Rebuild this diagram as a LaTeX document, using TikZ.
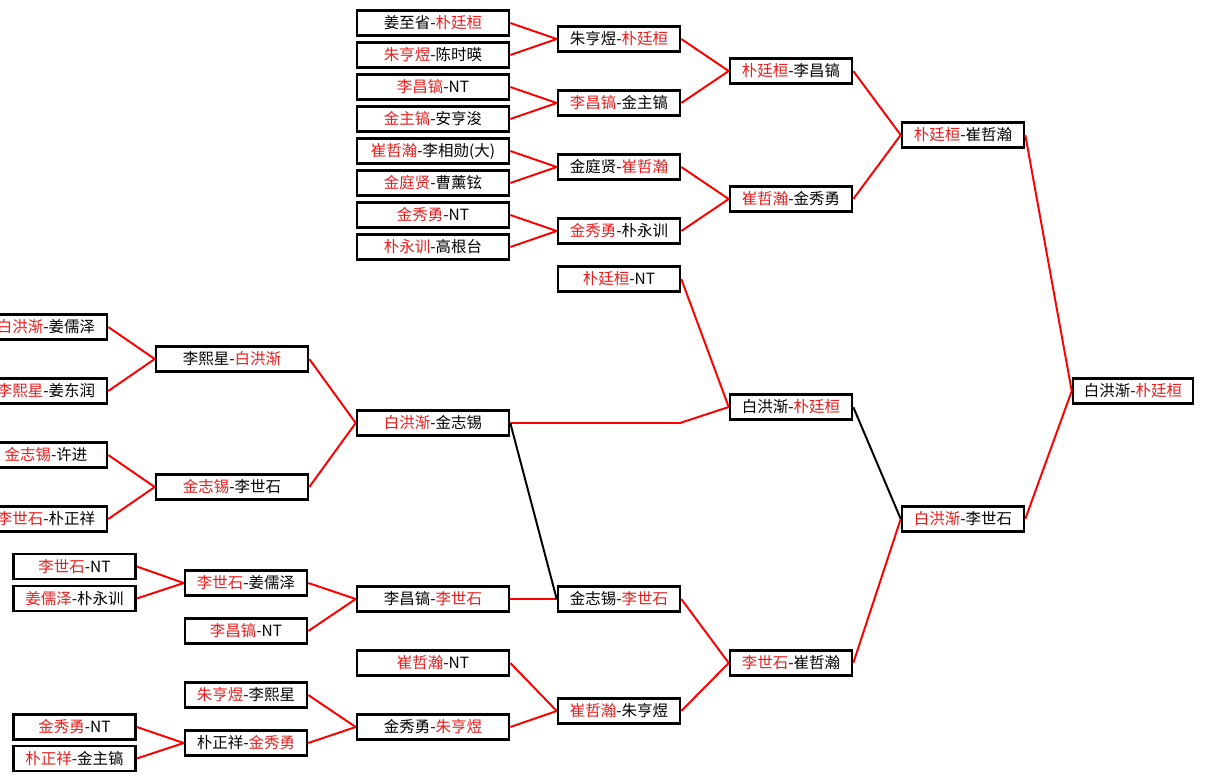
\documentclass[tikz,border=0pt]{standalone}
\usepackage{fontspec}
\setmainfont{Noto Sans CJK SC}
\definecolor{winred}{RGB}{232,30,30}
\newcommand\rn[1]{\textcolor{winred}{#1}}

\begin{document}
\begin{tikzpicture}
[x=0.025cm,y=-0.025cm,
mm/.style={draw=black,line width=1.8pt,fill=white,minimum width=3.05cm,minimum height=0.62cm,inner sep=0pt,font=\fontsize{11}{12}\selectfont},
ww/.style={mm,minimum width=3.8cm},
win/.style={draw={rgb,255:red,255;green,0;blue,0},line width=1.4pt},
lose/.style={draw=black,line width=1.4pt}]
\useasboundingbox (0,0) rectangle (1205,781);
\clip (0,0) rectangle (1205,781);
%%%%% UPPER ROUND 1
\foreach \i/\t in {1/{姜至省-\rn{朴廷桓}},2/{\rn{朱亨煜}-陈时暎},3/{\rn{李昌镐}-NT},4/{\rn{金主镐}-安亨浚},
	5/{\rn{崔哲瀚}-李相勋(大)},6/{\rn{金庭贤}-曹薰铉},7/{\rn{金秀勇}-NT},8/{\rn{朴永训}-高根台}}
{
	\node[ww] (upa\i) at (433,{-9+32*\i}) {\t};
};
%%%%% UPPER ROUND 2
\foreach \i/\t in {1/{朱亨煜-\rn{朴廷桓}},2/{\rn{李昌镐}-金主镐},3/{金庭贤-\rn{崔哲瀚}},4/{\rn{金秀勇}-朴永训}}
{
	\node[mm] (upb\i) at (619,{-25+64*\i}) {\t};
	\pgfmathtruncatemacro\ia{2*\i-1}
	\pgfmathtruncatemacro\ib{2*\i}
	\draw[win] (upa\ia.east) -- (upb\i.west);
	\draw[win] (upa\ib.east) -- (upb\i.west);
};
%%%%% UPPER ROUND 3
\foreach \i/\t in {1/{\rn{朴廷桓}-李昌镐},2/{\rn{崔哲瀚}-金秀勇}}
{
	\node[mm] (upc\i) at (791,{-57+128*\i}) {\t};
	\pgfmathtruncatemacro\ia{2*\i-1}
	\pgfmathtruncatemacro\ib{2*\i}
	\draw[win] (upb\ia.east) -- (upc\i.west);
	\draw[win] (upb\ib.east) -- (upc\i.west);
};
\node[mm] (upd1) at (963,135) {\rn{朴廷桓}-崔哲瀚};
\draw[win] (upc1.east) -- (upd1.west);
\draw[win] (upc2.east) -- (upd1.west);
%%%%% MIDDLE
\foreach \i/\t in {1/{\rn{白洪渐}-姜儒泽},2/{\rn{李熙星}-姜东润},3/{\rn{金志锡}-许进},4/{\rn{李世石}-朴正祥}}
{
	\node[mm] (mida\i) at (46,{263+64*\i}) {\t};
};
\foreach \i/\t in {1/{李熙星-\rn{白洪渐}},2/{\rn{金志锡}-李世石}}
{
	\node[ww] (midb\i) at (232,{231+128*\i}) {\t};
	\pgfmathtruncatemacro\ia{2*\i-1}
	\pgfmathtruncatemacro\ib{2*\i}
	\draw[win] (mida\ia.east) -- (midb\i.west);
	\draw[win] (mida\ib.east) -- (midb\i.west);
};
\node[ww] (midc) at (433,423) {\rn{白洪渐}-金志锡};
\draw[win] (midb1.east) -- (midc.west);
\draw[win] (midb2.east) -- (midc.west);
\node[mm] (midnt) at (619,279) {\rn{朴廷桓}-NT};
\node[mm] (midd) at (791,407) {白洪渐-\rn{朴廷桓}};
\coordinate (bend) at (680,423);
\draw[win] (midc.east) -- (bend) -- (midd.west);
\draw[win] (midnt.east) -- (midd.west);
%%%%% LOWER
\node[mm] (lowa1) at (74.5,566.5) {\rn{李世石}-NT};
\node[mm] (lowa2) at (74.5,598.5) {\rn{姜儒泽}-朴永训};
\node[mm] (lowa3) at (74.5,727) {\rn{金秀勇}-NT};
\node[mm] (lowa4) at (74.5,758.5) {\rn{朴正祥}-金主镐};
\node[mm] (lowb1) at (246,583) {\rn{李世石}-姜儒泽};
\node[mm] (lowb2) at (246,631) {\rn{李昌镐}-NT};
\node[mm] (lowb3) at (246,695) {\rn{朱亨煜}-李熙星};
\node[mm] (lowb4) at (246,743) {朴正祥-\rn{金秀勇}};
\draw[win] (lowa1.east) -- (lowb1.west);
\draw[win] (lowa2.east) -- (lowb1.west);
\draw[win] (lowa3.east) -- (lowb4.west);
\draw[win] (lowa4.east) -- (lowb4.west);
\node[ww] (lowc1) at (433,599) {李昌镐-\rn{李世石}};
\node[ww] (lowc2) at (433,663) {\rn{崔哲瀚}-NT};
\node[ww] (lowc3) at (433,727) {金秀勇-\rn{朱亨煜}};
\draw[win] (lowb1.east) -- (lowc1.west);
\draw[win] (lowb2.east) -- (lowc1.west);
\draw[win] (lowb3.east) -- (lowc3.west);
\draw[win] (lowb4.east) -- (lowc3.west);
\node[mm] (lowd1) at (619,599) {金志锡-\rn{李世石}};
\node[mm] (lowd2) at (619,711) {\rn{崔哲瀚}-朱亨煜};
\draw[win] (lowc1.east) -- (lowd1.west);
\draw[lose] (midc.east) -- (lowd1.west);
\draw[win] (lowc2.east) -- (lowd2.west);
\draw[win] (lowc3.east) -- (lowd2.west);
\node[mm] (lowe) at (791,663) {\rn{李世石}-崔哲瀚};
\draw[win] (lowd1.east) -- (lowe.west);
\draw[win] (lowd2.east) -- (lowe.west);
\node[mm] (lowf) at (963,519) {\rn{白洪渐}-李世石};
\draw[lose] (midd.east) -- (lowf.west);
\draw[win] (lowe.east) -- (lowf.west);
%%%%% FINAL
\node[mm,minimum width=3cm] (final) at (1133,391) {白洪渐-\rn{朴廷桓}};
\draw[win] (upd1.east) -- (final.west);
\draw[win] (lowf.east) -- (final.west);
\end{tikzpicture}
\end{document}
